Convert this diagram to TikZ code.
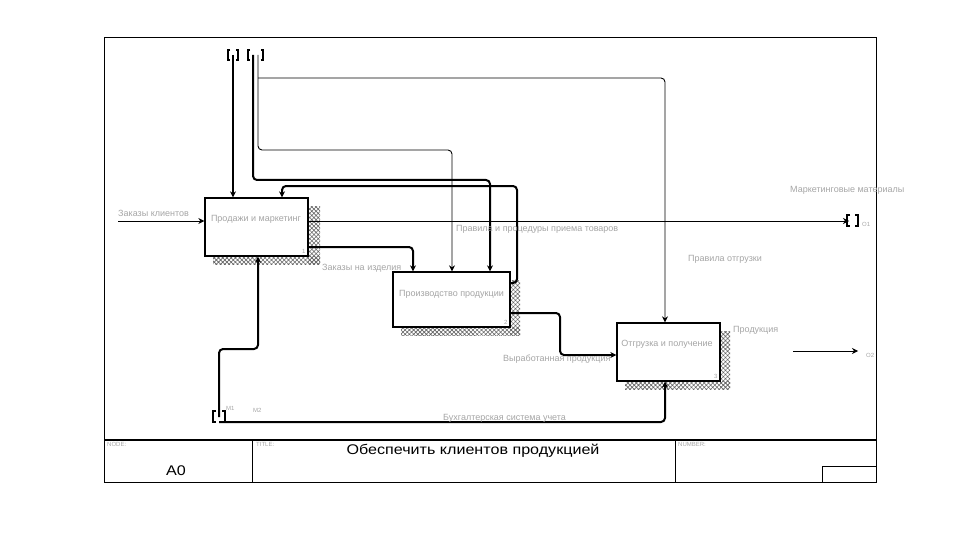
\documentclass[tikz,border=0pt]{standalone}
\usepackage{fontspec}
\setmainfont{Liberation Sans}
\newfontfamily\widesans[FakeStretch=1.15]{Liberation Sans}
\usetikzlibrary{arrows.meta,patterns.meta,calc}
\definecolor{lblgray}{RGB}{165,165,165}
\tikzset{
  lbl/.style={text=lblgray,font=\fontsize{9}{10}\selectfont,inner sep=0pt,anchor=west},
  tiny/.style={text=lblgray,font=\fontsize{6}{7}\selectfont,inner sep=0pt,anchor=west},
  actbox/.style={draw,line width=1.3pt,fill=white,inner sep=0pt},
  shadowfill/.style={pattern={Hatch[angle=45,distance=3pt,line width=0.6pt]},pattern color=black!60},
  thk/.style={line width=2pt,rounded corners=4pt},
  thn/.style={line width=0.9pt,rounded corners=4pt},
  arr/.style={-{Stealth[length=6pt,width=6pt]}},
  brk/.style={line width=1.6pt}
}
\begin{document}
\begin{tikzpicture}[x=1pt,y=-1pt]
\useasboundingbox (0,0) rectangle (960,540);
% frame
\draw[line width=0.9pt] (104,37) rectangle (876,482);
\draw[line width=2pt] (104,440) -- (876,440);
\draw[line width=0.9pt] (252,440) -- (252,482);
\draw[line width=0.9pt] (675,440) -- (675,482);
\draw[line width=0.9pt] (822,482) -- (822,466) -- (876,466);
\node[tiny] (nodelbl) at (107,444) {NODE:};
\node[tiny] (titlelbl) at (256,444) {TITLE:};
\node[tiny] (numlbl) at (678,444) {NUMBER:};
\node[inner sep=0pt,font=\widesans\fontsize{14}{15}\selectfont] (a0) at (176,471) {A0};
\node[inner sep=0pt,font=\widesans\fontsize{14}{15}\selectfont] (title) at (473,451) {Обеспечить клиентов продукцией};

% shadows
\fill[shadowfill] (308,206) rectangle (320,264);
\fill[shadowfill] (213,256) rectangle (320,264);
\fill[shadowfill] (510,280) rectangle (520,335);
\fill[shadowfill] (401,327) rectangle (520,335);
\fill[shadowfill] (720,331) rectangle (730,389);
\fill[shadowfill] (625,381) rectangle (730,389);

% boxes
\node[actbox,minimum width=103pt,minimum height=58pt] (b1) at (256.5,227) {};
\node[actbox,minimum width=117pt,minimum height=55pt] (b2) at (451.5,299.5) {};
\node[actbox,minimum width=103pt,minimum height=58pt] (b3) at (668.5,352) {};
\node[lbl,anchor=center] (b1t) at (256,219) {Продажи и маркетинг};
\node[lbl,anchor=center] (b2t) at (451.5,294) {Производство продукции};
\node[lbl,anchor=center] (b3t) at (667,344) {Отгрузка и получение};
\node[tiny,anchor=south east] (b1n) at ($(b1.south east)+(-3,-3)$) {1};
\node[tiny,anchor=south east] (b2n) at ($(b2.south east)+(-3,-3)$) {2};
\node[tiny,anchor=south east] (b3n) at ($(b3.south east)+(-3,-3)$) {3};

% tunnel brackets top
\coordinate (t1) at (233,55);
\coordinate (t2a) at (253,55);
\coordinate (t2b) at (258,55);
\draw[brk] (230,50) -- (228,50) -- (228,60) -- (230,60);
\draw[brk] (236,50) -- (238,50) -- (238,60) -- (236,60);
\draw[brk] (250,50) -- (248,50) -- (248,60) -- (250,60);
\draw[brk] (261,50) -- (263,50) -- (263,60) -- (261,60);
% mechanism tunnel
\draw[brk] (216,411) -- (213,411) -- (213,422) -- (216,422);
\draw[brk] (222,411) -- (225,411) -- (225,422) -- (222,422);
\coordinate (m1) at (219,417);
\node[tiny] (m1l) at (226,408) {M1};
\node[tiny] (m2l) at (253,410) {M2};

% input
\coordinate (in1) at (118,221);
\draw[thn,arr] (in1) -- (in1 -| b1.west);
\node[lbl] (in1l) at (118,213) {Заказы клиентов};

% controls
\draw[thk,arr] (t1) -- (t1 |- b1.north);
\draw[thn,arr] (t2b) -- (258,150) -- (452,150) -- (452,0 |- b2.north);
\draw[thn,arr] (258,78) -- (665,78) -- (665,0 |- b3.north);
\draw[thk,arr] (t2a) -- (253,180) -- (490,180) -- (490,0 |- b2.north);

% feedback b2 -> b1
\draw[thk,arr] (b2.east |- 0,283) -- (517,283) -- (517,186) -- (282,186) -- (282,0 |- b1.north);

% outputs box1
\coordinate (o1) at (849,221);
\draw[thn,arr] (b1.east |- o1) -- (o1);
\draw[brk] (850,215) -- (847,215) -- (847,226) -- (850,226);
\draw[brk] (855,215) -- (858,215) -- (858,226) -- (855,226);
\node[tiny] (o1l) at (862,224) {O1};
\node[lbl] (mmat) at (790,190) {Маркетинговые материалы};
\draw[thk,arr] (b1.east |- 0,247) -- (413,247) -- (413,0 |- b2.north);
\node[lbl] (zak) at (322,268) {Заказы на изделия};

% output box2 -> box3
\draw[thk,arr] (b2.east |- 0,313) -- (560,313) -- (560,355) -- (b3.west |- 0,355);
\node[lbl] (vyr) at (503,359) {Выработанная продукция};

% mechanisms
\draw[thk,arr] (m1) -- (219,349) -- (258,349) -- (258,0 |- b1.south);
\draw[thk,arr] (219,422) -- (665,422) -- (665,0 |- b3.south);
\node[lbl] (buh) at (443,418) {Бухгалтерская система учета};

% other labels
\node[lbl] (pr1) at (456,229) {Правила и процедуры приема товаров};
\node[lbl] (pr2) at (688,259) {Правила отгрузки};
\node[lbl] (prod) at (733,330) {Продукция};

% isolated output
\coordinate (o2s) at (793,351);
\coordinate (o2) at (858,351);
\draw[thn,arr] (o2s) -- (o2);
\node[tiny] (o2l) at (866,355) {O2};
\end{tikzpicture}
\end{document}
